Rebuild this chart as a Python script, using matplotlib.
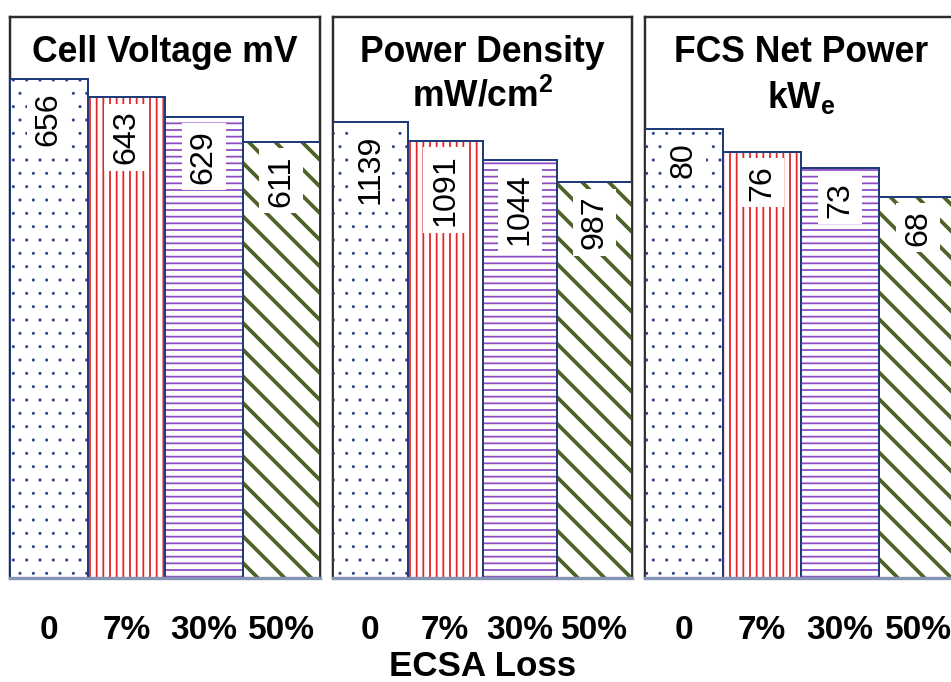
import matplotlib
matplotlib.use("Agg")
import matplotlib.pyplot as plt

# ---- data -------------------------------------------------------------
categories = ["0", "7%", "30%", "50%"]
cell_voltage = [656, 643, 629, 611]
power_density = [1139, 1091, 1044, 987]
net_power = [80, 76, 73, 68]

titles = ["Cell Voltage mV",
          "Power Density\nmW/cm$^\\mathregular{2}$",
          "FCS Net Power\nkW$_\\mathregular{e}$"]
panel_values = [cell_voltage, power_density, net_power]
panel_limits = [(300, 700), (0, 1400), (0, 100)]
x_label = "ECSA Loss"

# ---- style ------------------------------------------------------------
DPI = 80
plt.rcParams["font.family"] = ["Liberation Sans", "DejaVu Sans"]

hatches = [".", "||", "--", "\\"]
hatch_colors = ["#23418a", "#e0252b", "#8e4cc4", "#4f6228"]
hatch_widths = [0.3, 1.6, 1.6, 3.4]
edge_navy = "#1f3c7a"
frame_dark = "#2b2b2b"
base_color = "#8494b4"

fig = plt.figure(figsize=(951 / DPI, 682 / DPI), dpi=DPI)
W, H = 951.0, 682.0
panel_px = [(10, 310), (333, 299), (645, 312)]
top_px, bottom_px = 17, 578

x = list(range(len(categories)))
for (left, width), vals, lim, title in zip(panel_px, panel_values,
                                            panel_limits, titles):
    ax = fig.add_axes([left / W, (H - bottom_px) / H, width / W,
                       (bottom_px - top_px) / H])
    ax.set_xlim(-0.5, len(categories) - 0.5)
    ax.set_ylim(*lim)
    heights = [v - lim[0] for v in vals]

    # hatched fill, one bar at a time so each gets its own hatch width
    for xi, h, hatch, hc, hw in zip(x, heights, hatches, hatch_colors,
                                    hatch_widths):
        with plt.rc_context({"hatch.linewidth": hw}):
            bar = ax.bar(xi, h, width=1.0, bottom=lim[0], color="white",
                         edgecolor=hc, linewidth=0, hatch=hatch, zorder=3)
        for p in bar:
            if hasattr(p, "set_hatch_linewidth"):
                p.set_hatch_linewidth(hw)
    # outline
    ax.bar(x, heights, width=1.0, bottom=lim[0], fill=False,
           edgecolor=edge_navy, linewidth=1.8, zorder=4)

    for xi, v in zip(x, vals):
        ax.annotate(f"{v}", xy=(xi, v), xytext=(0, -12),
                    textcoords="offset points", ha="center", va="top",
                    rotation=90, fontsize=29, color="black", zorder=5,
                    bbox=dict(facecolor="white", edgecolor="none", pad=6))

    for side in ("top", "left", "right"):
        ax.spines[side].set_color(frame_dark)
        ax.spines[side].set_linewidth(2.2)
    ax.spines["bottom"].set_color(base_color)
    ax.spines["bottom"].set_linewidth(3.0)
    ax.spines["bottom"].set_zorder(6)

    ax.set_yticks([])
    ax.set_xticks(x)
    ax.set_xticklabels(categories, fontsize=30, fontweight="bold")
    ax.tick_params(axis="x", length=0, pad=33)

    ax.text(0.5, 0.968, title, transform=ax.transAxes, ha="center",
            va="top", fontsize=32, fontweight="bold", linespacing=1.3,
            zorder=6)

fig.text(483 / W, (H - 667) / H, x_label, ha="center", va="center",
         fontsize=31.5, fontweight="bold")

fig.savefig("out.png", dpi=DPI, facecolor="white")
